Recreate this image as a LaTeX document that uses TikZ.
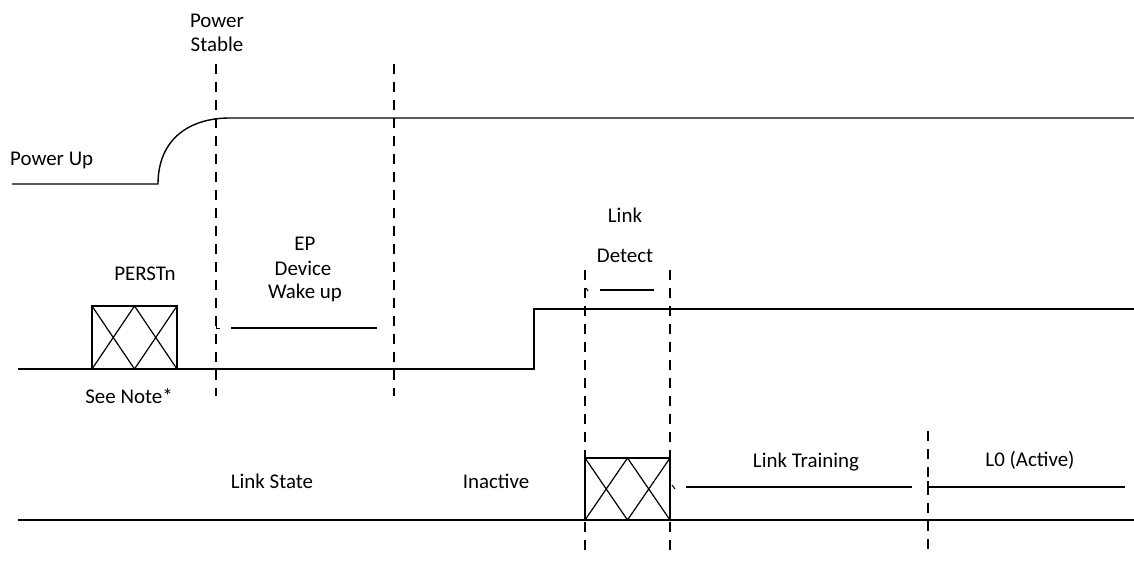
\documentclass[tikz,border=0pt]{standalone}
\usepackage{fontspec}
\setmainfont{Carlito}
\begin{document}
\begin{tikzpicture}[x=1bp,y=-1bp,
  wave/.style={line width=1.4bp},
  guide/.style={line width=1.3bp, dash pattern=on 10bp off 8bp},
  span/.style={line width=1.3bp},
  xbox/.style={line width=1.2bp},
  lbl/.style={anchor=base, inner sep=0pt, font=\fontsize{21}{25}\selectfont}]
\useasboundingbox (0,0) rectangle (1134,561);

% ---- labels ----
\node[lbl] (pwr1) at (217,27.5) {Power};
\node[lbl] (pwr2) at (217,51.5) {Stable};
\node[lbl, anchor=base west] (pup) at (10,166) {Power Up};
\node[lbl] (perst) at (145,281) {PERSTn};
\node[lbl] (note) at (129,403) {See Note*};
\node[lbl] (ep1) at (305,251) {EP};
\node[lbl] (ep2) at (303,276) {Device};
\node[lbl] (ep3) at (305,299) {Wake up};
\node[lbl] (ld1) at (625,223) {Link};
\node[lbl] (ld2) at (625,263) {Detect};
\node[lbl] (lstate) at (272,488) {Link State};
\node[lbl] (inact) at (496,488) {Inactive};
\node[lbl] (ltrain) at (806,467) {Link Training};
\node[lbl] (lzero) at (1030,466) {L0 (Active)};

% ---- power up waveform ----
\coordinate (pu0) at (12,184);
\coordinate (pu1) at (158,184);
\coordinate (pu2) at (230,118);
\coordinate (pu3) at (1134,118);
\draw[wave] (pu0) -- (pu1) .. controls (158,142) and (186,118) .. (pu2) -- (pu3);

% ---- PERSTn waveform ----
\coordinate (pe0) at (18,369);
\coordinate (pe1) at (534,369);
\coordinate (pe2) at (534,309);
\coordinate (pe3) at (1134,309);
\draw[wave] (pe0) -- (pe1) -- (pe2) -- (pe3);

% ---- link state baseline ----
\coordinate (ls0) at (18,520);
\coordinate (ls1) at (1134,520);
\draw[wave] (ls0) -- (ls1);

% ---- hatched boxes ----
\coordinate (pb0) at (92,306);
\coordinate (pb1) at (177,369);
\draw[xbox] (pb0) rectangle (pb1);
\draw[xbox] (92,306) -- (134.5,369) -- (177,306)
            (92,369) -- (134.5,306) -- (177,369);
\coordinate (lb0) at (585,458);
\coordinate (lb1) at (670,520);
\draw[xbox] (lb0) rectangle (lb1);
\draw[xbox] (585,458) -- (627.5,520) -- (670,458)
            (585,520) -- (627.5,458) -- (670,520);

% ---- dashed markers ----
\coordinate (d1a) at (216,64);  \coordinate (d1b) at (216,396);
\coordinate (d2a) at (394,64);  \coordinate (d2b) at (394,396);
\coordinate (d3a) at (585,270); \coordinate (d3b) at (585,556);
\coordinate (d4a) at (670,270); \coordinate (d4b) at (670,556);
\coordinate (d5a) at (928,431); \coordinate (d5b) at (928,556);
\foreach \a/\b in {d1a/d1b,d2a/d2b,d3a/d3b,d4a/d4b,d5a/d5b}
  \draw[guide] (\a) -- (\b);

% ---- interval spans ----
\coordinate (s1a) at (231,328); \coordinate (s1b) at (377,328);
\coordinate (s2a) at (600,290); \coordinate (s2b) at (654,290);
\coordinate (s3a) at (686,487); \coordinate (s3b) at (912,487);
\coordinate (s4a) at (930,487); \coordinate (s4b) at (1125,487);
\draw[span] (s1a) -- (s1b);
\draw[span] (s2a) -- (s2b);
\draw[span] (s3a) -- (s3b);
\draw[span] (928,481) -- (928,487) -- (s4b);

% small end ticks
\draw[line width=1bp] (216,322) -- (216,329) -- (220,329);
\draw[line width=1bp] (586,288) -- (588,291);
\draw[line width=1bp] (672,485) -- (675,489);
\end{tikzpicture}
\end{document}
